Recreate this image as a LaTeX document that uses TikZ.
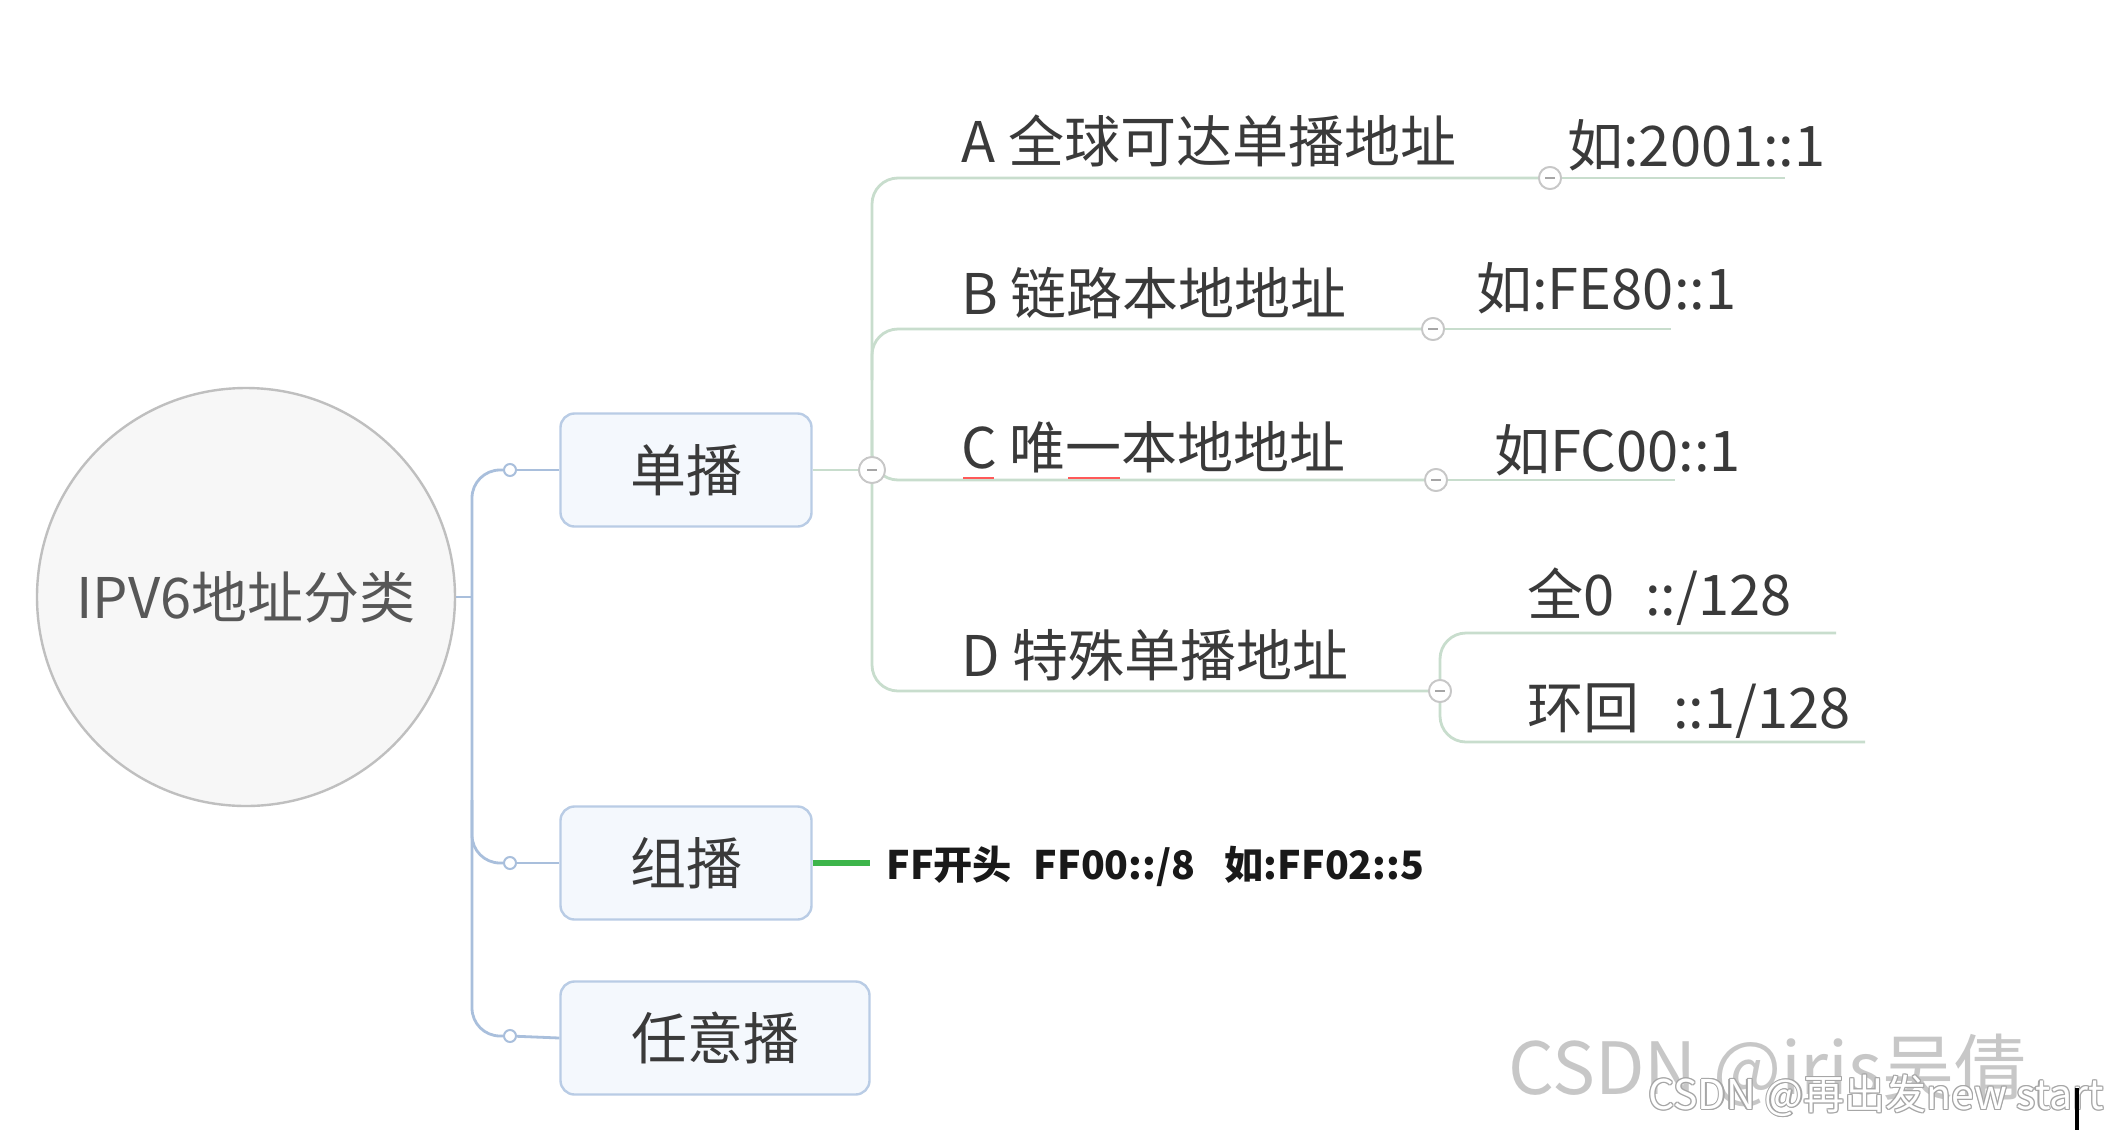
\documentclass[tikz,border=0pt]{standalone}
\usepackage{fontspec}
\setmainfont{Noto Sans CJK SC}
\usetikzlibrary{shapes.geometric}
\definecolor{blueline}{HTML}{A9BFDC}
\definecolor{greenline}{HTML}{C8DDCD}
\definecolor{boxfill}{HTML}{F4F8FD}
\definecolor{boxdraw}{HTML}{B9CCE5}
\definecolor{txt}{HTML}{3A3A3A}
\definecolor{mgreen}{HTML}{3DB54B}
\begin{document}
\begin{tikzpicture}[x=0.5pt,y=-0.5pt,
  rootnode/.style={circle,draw=black!25,line width=1.2pt,fill=black!3,minimum size=209pt,inner sep=0,text=txt!85,font=\fontsize{28}{32}\selectfont},
  boxnode/.style={rectangle,rounded corners=7pt,draw=boxdraw,line width=1.2pt,fill=boxfill,minimum height=56.5pt,inner sep=0,text=txt,font=\fontsize{28}{32}\selectfont},
  lbl/.style={anchor=west,inner sep=0,text=txt,font=\fontsize{28}{32}\selectfont},
  bluel/.style={draw=blueline,line width=1.4pt},
  greenl/.style={draw=greenline,line width=1.4pt},
  bdot/.style={circle,draw=blueline,line width=1pt,fill=white,minimum size=6pt,inner sep=0},
  gcirc/.style={circle,draw=black!22,line width=0.9pt,fill=white,minimum size=11pt,inner sep=0,
    path picture={\draw[black!35,line width=0.8pt] ([xshift=-2.5pt]path picture bounding box.center) -- ([xshift=2.5pt]path picture bounding box.center);}}
]
\useasboundingbox (0,0) rectangle (2104,1130);
\fill[white] (0,0) rectangle (2104,1130);

% root and level 1
\node[rootnode] (root) at (246,597) {IPV6地址分类};
\node[boxnode,minimum width=125.5pt] (uni) at (686,470) {单播};
\node[boxnode,minimum width=125.5pt] (multi) at (686,863) {组播};
\node[boxnode,minimum width=154.5pt] (any) at (715,1038) {任意播};

% blue connectors
\coordinate (tj) at (472,597);
\node[bdot] (du) at (510,470) {};
\node[bdot] (dm) at (510,863) {};
\node[bdot] (da) at (510,1036) {};
\draw[bluel] (root.east) -- (tj);
\draw[bluel,rounded corners=14pt] (du) -- (472,470) -- (472,1036) -- (da);
\draw[bluel,rounded corners=14pt] (472,800) -- (472,863) -- (dm);
\draw[bluel] (du) -- (uni.west);
\draw[bluel] (dm) -- (multi.west);
\draw[bluel] (da) -- (any.west);

% green tree of unicast
\node[gcirc,minimum size=13pt] (cu) at (872,470) {};
\node[gcirc] (ca) at (1550,178) {};
\node[gcirc] (cb) at (1433,329) {};
\node[gcirc] (cc) at (1436,480) {};
\node[gcirc] (cd) at (1440,691) {};
\coordinate (ea) at (1785,178);
\coordinate (eb) at (1671,329);
\coordinate (ec) at (1675,480);
\coordinate (ed1) at (1836,633);
\coordinate (ed2) at (1865,742);
\draw[greenl] (uni.east) -- (cu);
\draw[greenl,rounded corners=13pt] (ca) -- (872,178) -- (872,691) -- (cd);
\draw[greenl,rounded corners=13pt] (872,380) -- (872,329) -- (cb);
\draw[greenl,rounded corners=13pt] (872,420) -- (872,480) -- (cc);
\draw[greenl] (ca) -- (ea);
\draw[greenl] (cb) -- (eb);
\draw[greenl] (cc) -- (ec);
\draw[greenl,rounded corners=13pt] (cd) -- (1440,633) -- (ed1);
\draw[greenl,rounded corners=13pt] (cd) -- (1440,742) -- (ed2);
\node[gcirc,minimum size=13pt] at (cu) {};
\node[gcirc] at (ca) {};
\node[gcirc] at (cb) {};
\node[gcirc] at (cc) {};
\node[gcirc] at (cd) {};

\node[lbl] (ta) at (961,141) {A 全球可达单播地址};
\node[lbl] (va) at (1567,145) {如:2001::1};
\node[lbl] (tb) at (961,293) {B 链路本地地址};
\node[lbl] (vb) at (1476,288) {如:FE80::1};
\node[lbl] (tc) at (961,447) {C 唯一本地地址};
\node[lbl] (vc) at (1494,450) {如FC00::1};
\node[lbl] (td) at (961,655) {D 特殊单播地址};
\node[lbl] (vd1) at (1527,597) {全0\hspace{0.55em}::/128};
\node[lbl] (vd2) at (1527,711) {环回\hspace{0.6em}::1/128};
\draw[red!65,line width=1.1pt] (963,478) -- (994,478);
\draw[red!65,line width=1.1pt] (1068,478) -- (1120,478);

% multicast
\node[anchor=west,inner sep=0,text=black!90,font=\bfseries\fontsize{19.6}{23}\selectfont] (mt) at (886,866) {FF开头\hspace{0.55em}FF00::/8\hspace{0.75em}如:FF02::5};
\coordinate (mg) at (870,863);
\draw[draw=mgreen,line width=2.6pt] (multi.east) -- (mg);

% watermarks
\node[anchor=west,inner sep=0,text=black!22,font=\fontsize{36}{40}\selectfont] (wm1) at (1508,1070) {CSDN @iris吴倩};
\foreach \dx/\dy in {-1.2/0,1.2/0,0/-1.2,0/1.2,-0.9/-0.9,0.9/0.9,-0.9/0.9,0.9/-0.9}{
  \node[anchor=west,inner sep=0,text=black!35,font=\fontsize{20.5}{24}\selectfont] at (1648+\dx,1096+\dy) {CSDN @再出发new start};
}
\node[anchor=west,inner sep=0,text=white,font=\fontsize{20.5}{24}\selectfont] (wm2) at (1648,1096) {CSDN @再出发new start};
\coordinate (bar1) at (2077,1088);
\coordinate (bar2) at (2077,1130);
\draw[black,line width=2pt] (bar1) -- (bar2);
\end{tikzpicture}
\end{document}
